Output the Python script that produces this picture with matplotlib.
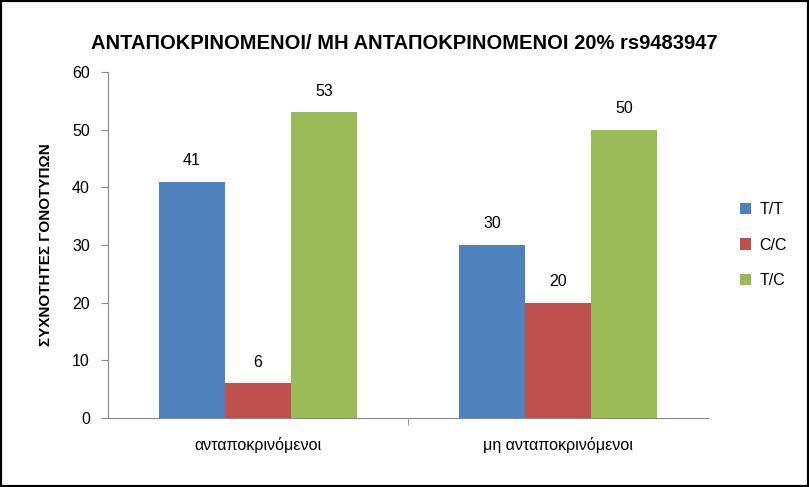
import numpy as np
import matplotlib.pyplot as plt
from matplotlib.patches import Rectangle

plt.rcParams['font.family'] = ['Liberation Sans', 'DejaVu Sans']

# Data
categories = ['ανταποκρινόμενοι', 'μη ανταποκρινόμενοι']
genotypes = ['T/T', 'C/C', 'T/C']
values_tt = [41, 30]
values_cc = [6, 20]
values_tc = [53, 50]
colors = ['#4F81BD', '#C0504D', '#9BBB59']

fig = plt.figure(figsize=(8.09, 4.87), dpi=100)
ax = fig.add_axes([0.1335, 0.1417, 0.7415, 0.7103])

x = np.arange(len(categories))
w = 0.22
series = [values_tt, values_cc, values_tc]
for i, (vals, lab, col) in enumerate(zip(series, genotypes, colors)):
    bars = ax.bar(x + (i - 1) * w, vals, w, color=col, label=lab)
    ax.bar_label(bars, padding=10, fontsize=11.5)

ax.set_xlim(-0.5, len(categories) - 0.5)
ax.set_ylim(0, 60)
ax.set_yticks(range(0, 61, 10))
ax.set_xticks(x)
ax.set_xticklabels(categories, fontsize=11.5)
ax.set_xticks([0.5], minor=True)
ax.tick_params(axis='x', which='major', length=0, pad=14)
ax.tick_params(axis='x', which='minor', length=5, color='#888888')
ax.tick_params(axis='y', labelsize=11.5, length=5, color='#888888', pad=8)
for s in ['top', 'right']:
    ax.spines[s].set_visible(False)
for s in ['left', 'bottom']:
    ax.spines[s].set_color('#888888')

ax.set_ylabel('ΣΥΧΝΟΤΗΤΕΣ ΓΟΝΟΤΥΠΩΝ', fontsize=11, fontweight='bold', labelpad=14)
fig.suptitle('ΑΝΤΑΠΟΚΡΙΝΟΜΕΝΟΙ/ ΜΗ ΑΝΤΑΠΟΚΡΙΝΟΜΕΝΟΙ 20% rs9483947',
             fontsize=14.5, fontweight='bold', y=0.93)

ax.legend(loc='center left', bbox_to_anchor=(1.03, 0.5), frameon=False,
          fontsize=11.5, handlelength=0.7, handleheight=0.7, labelspacing=1.3,
          handletextpad=0.5)

fig.patches.append(Rectangle((0, 0), 1, 1, transform=fig.transFigure,
                             fill=False, edgecolor='black', linewidth=3))

fig.savefig('out.png', dpi=100)
